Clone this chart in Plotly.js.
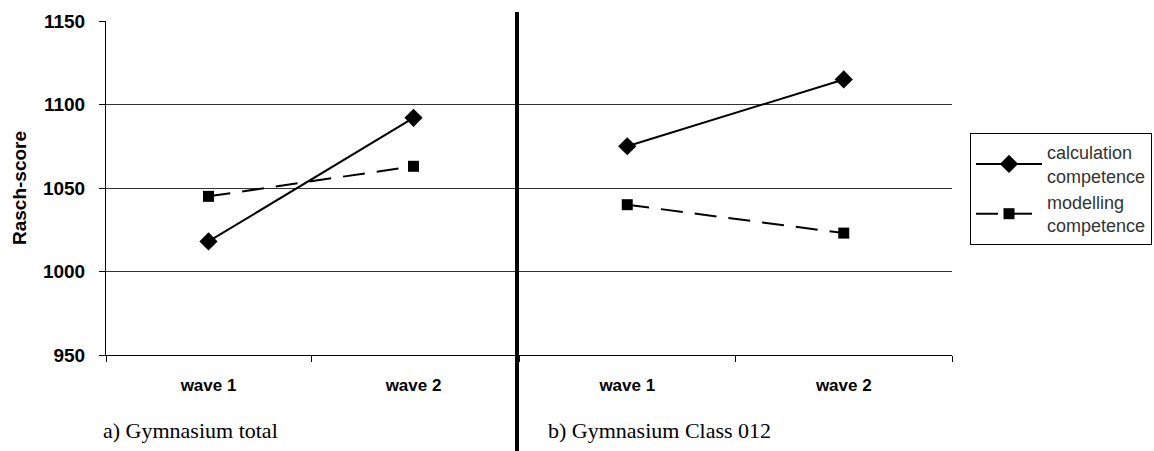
<!DOCTYPE html>
<html>
<head>
<meta charset="utf-8">
<script src="https://cdn.plot.ly/plotly-3.0.1.min.js"></script>
<style>html,body{margin:0;padding:0;background:#fff;}#chart{width:1154px;height:451px;}</style>
</head>
<body>
<div id="chart"></div>
<script>
// Data
const waves = ["wave 1", "wave 2"];
const totalCalculation = [1018, 1092];
const totalModelling = [1045, 1063];
const class012Calculation = [1075, 1115];
const class012Modelling = [1040, 1023];
const seriesNames = ["calculation<br>competence", "modelling<br>competence"];
const panelLabels = ["a) Gymnasium total", "b) Gymnasium Class 012"];
const yTicks = [950, 1000, 1050, 1100, 1150];

const W = 1154, H = 451;
const px = v => v / W, py = v => 1 - v / H;
const ARIAL = "Arial, Liberation Sans, sans-serif";
const SERIF = "Liberation Serif, Times New Roman, serif";

const calcStyle = {mode: "lines+markers", line: {color: "#000", width: 2}, marker: {symbol: "diamond", size: 14, color: "#000"}};
const modStyle = {mode: "lines+markers", line: {color: "#000", width: 2, dash: "22px,12px"}, marker: {symbol: "square", size: 11, color: "#000"}};

const traces = [
  Object.assign({x: waves, y: totalCalculation, name: seriesNames[0], xaxis: "x", yaxis: "y", legendgroup: "c"}, calcStyle),
  Object.assign({x: waves, y: totalModelling, name: seriesNames[1], xaxis: "x", yaxis: "y", legendgroup: "m"}, modStyle),
  Object.assign({x: waves, y: class012Calculation, name: seriesNames[0], xaxis: "x2", yaxis: "y2", legendgroup: "c", showlegend: false}, calcStyle),
  Object.assign({x: waves, y: class012Modelling, name: seriesNames[1], xaxis: "x2", yaxis: "y2", legendgroup: "m", showlegend: false}, modStyle)
];

const xCommon = {
  type: "category", range: [-0.5, 1.5], showgrid: false, showline: true, linecolor: "#000", linewidth: 1,
  ticks: "outside", tickson: "boundaries", ticklen: 6, tickcolor: "#000",
  tickfont: {family: ARIAL, size: 17, color: "#000", weight: "bold"},
  ticklabelstandoff: 15, fixedrange: true
};
const yCommon = {
  range: [950, 1150], tickvals: yTicks, showgrid: true, gridcolor: "#333", gridwidth: 1,
  zeroline: false, fixedrange: true
};

const layout = {
  width: W, height: H,
  margin: {l: 0, r: 0, t: 0, b: 0},
  paper_bgcolor: "#fff", plot_bgcolor: "#fff",
  showlegend: true,
  legend: {
    x: px(970), y: py(133), xanchor: "left", yanchor: "top",
    bordercolor: "#000", borderwidth: 1, bgcolor: "#fff",
    font: {family: ARIAL, size: 18, color: "#333"},
    tracegroupgap: 0, itemwidth: 66
  },
  xaxis: Object.assign({domain: [px(106), px(516)], anchor: "y"}, xCommon),
  xaxis2: Object.assign({domain: [px(519), px(952)], anchor: "y2"}, xCommon),
  yaxis: Object.assign({
    domain: [py(355), py(21)], anchor: "x",
    showline: true, linecolor: "#000", linewidth: 1,
    ticks: "outside", ticklen: 6, tickcolor: "#000",
    tickfont: {family: ARIAL, size: 19, color: "#000", weight: "bold"},
    ticklabelstandoff: 10,
    title: {text: "Rasch-score", standoff: 11, font: {family: ARIAL, size: 19, color: "#000", weight: "bold"}}
  }, yCommon),
  yaxis2: Object.assign({
    domain: [py(355), py(21)], anchor: "x2", matches: "y",
    showline: false, showticklabels: false, ticks: ""
  }, yCommon),
  shapes: [
    {type: "line", xref: "paper", yref: "paper", x0: px(517), x1: px(517), y0: py(12), y1: 0,
     line: {color: "#000", width: 4}}
  ],
  annotations: [
    {text: panelLabels[0], xref: "paper", yref: "paper", x: px(101), y: py(430), xanchor: "left", yanchor: "middle",
     showarrow: false, font: {family: SERIF, size: 22, color: "#000"}},
    {text: panelLabels[1], xref: "paper", yref: "paper", x: px(546), y: py(430), xanchor: "left", yanchor: "middle",
     showarrow: false, font: {family: SERIF, size: 22, color: "#000"}}
  ]
};

Plotly.newPlot("chart", traces, layout, {displayModeBar: false, staticPlot: true});
</script>
</body>
</html>
